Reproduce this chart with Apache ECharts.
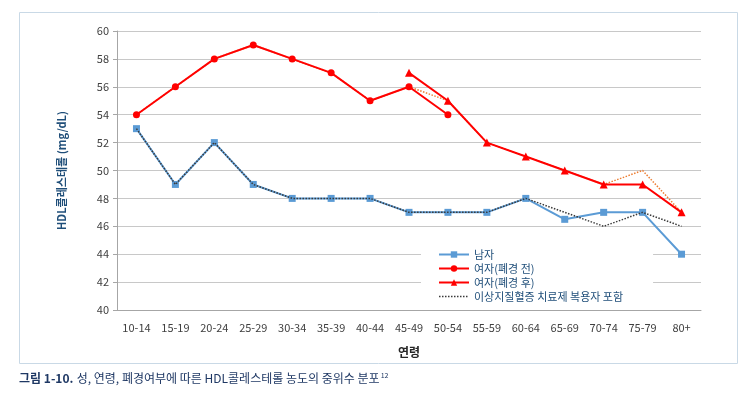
<!DOCTYPE html>
<html><head><meta charset="utf-8">
<script src="https://cdn.jsdelivr.net/npm/echarts@6/dist/echarts.min.js"></script>
<style>html,body{margin:0;padding:0;background:#fff}#c{width:741px;height:394px}</style>
</head><body><div id="c"></div>
<script>
const categories = ['10-14','15-19','20-24','25-29','30-34','35-39','40-44','45-49','50-54','55-59','60-64','65-69','70-74','75-79','80+'];
const men = [53,49,52,49,48,48,48,47,47,47,48,46.5,47,47,44];
const womenPre = [54,56,58,59,58,57,55,56,54,null,null,null,null,null,null];
const womenPost = [null,null,null,null,null,null,null,57,55,52,51,50,49,49,47];
const menInclTx = [53,49,52,49,48,48,48,47,47,47,48,47,46,47,46];
const womenInclTx = [54,56,58,59,58,57,55,56,55,52,51,50,49,50,47];
const yTicks = [40,42,44,46,48,50,52,54,56,58,60];
const names = ['남자','여자(폐경 전)','여자(폐경 후)','이상지질혈증 치료제 복용자 포함'];

const font = "'Noto Sans CJK KR', 'Noto Sans', sans-serif";
const chart = echarts.init(document.getElementById('c'));
chart.setOption({
  animation:false,
  textStyle:{fontFamily:font},
  grid:{left:117,right:40,top:31,bottom:84},
  graphic:[
    {type:'rect',z:-10,shape:{x:19.5,y:12.5,width:718,height:351},style:{fill:'none',stroke:'#c9d9e6',lineWidth:1}},
    {type:'text',left:19,top:372,style:{
      text:'{b|그림 1-10.} {r|성, 연령, 폐경여부에 따른 HDL콜레스테롤 농도의 중위수 분포}{s|12}',
      rich:{
        b:{fontFamily:font,fontWeight:'bold',fontSize:12,fill:'#1f3864'},
        r:{fontFamily:font,fontSize:12,fill:'#1f3864'},
        s:{fontFamily:font,fontSize:7,fill:'#1f3864',verticalAlign:'top',padding:[0,0,6,1]}
      }}}
  ],
  legend:{
    orient:'vertical',left:421,top:245,
    backgroundColor:'#ffffff',padding:[4,30,4,17],
    itemWidth:30,itemHeight:8,itemGap:3,
    textStyle:{fontFamily:font,fontSize:11,color:'#1f4e79'},
    data:[names[0],names[1],names[2],
      {name:names[3],itemStyle:{opacity:0,borderWidth:0},lineStyle:{color:'#3a3a3a',type:'dotted',width:1.5}}]
  },
  xAxis:{
    type:'category',data:categories,boundaryGap:true,
    name:'연령',nameLocation:'middle',nameGap:36,
    nameTextStyle:{fontFamily:font,fontWeight:'bold',fontSize:12,color:'#262626'},
    axisLine:{lineStyle:{color:'#a6a6a6',width:1}},
    axisTick:{show:false},
    axisLabel:{fontFamily:font,fontSize:11,color:'#404040',margin:12,interval:0}
  },
  yAxis:{
    type:'value',min:40,max:60,interval:2,
    name:'HDL콜레스테롤 (mg/dL)',nameLocation:'middle',nameGap:50,
    nameTextStyle:{fontFamily:font,fontWeight:'bold',fontSize:11,color:'#1f4e79'},
    axisLine:{show:true,lineStyle:{color:'#a6a6a6'}},
    axisTick:{show:true,length:4,lineStyle:{color:'#a6a6a6'}},
    splitLine:{lineStyle:{color:'#c8c8c8',width:1}},
    axisLabel:{fontFamily:font,fontSize:11,color:'#404040',margin:8,
      formatter:v=>yTicks.includes(v)?String(v):''}
  },
  series:[
    {name:names[0],type:'line',data:men,symbol:'rect',symbolSize:7,z:2,
      lineStyle:{color:'#5b9bd5',width:2},itemStyle:{color:'#5b9bd5'}},
    {name:names[1],type:'line',data:womenPre,symbol:'circle',symbolSize:7,z:4,
      lineStyle:{color:'#ff0000',width:2},itemStyle:{color:'#ff0000'}},
    {name:names[2],type:'line',data:womenPost,symbol:'triangle',symbolSize:8,z:5,
      lineStyle:{color:'#ff0000',width:2},itemStyle:{color:'#ff0000'}},
    {name:names[3],type:'line',data:menInclTx,symbol:'none',z:3,
      lineStyle:{color:'#3a3a3a',width:1.5,type:'dotted'},itemStyle:{color:'#3a3a3a'}},
    {name:names[3],type:'line',data:womenInclTx,symbol:'none',z:1,
      lineStyle:{color:'#ed7d31',width:1.5,type:'dotted'},itemStyle:{color:'#ed7d31'}}
  ]
});
</script></body></html>
